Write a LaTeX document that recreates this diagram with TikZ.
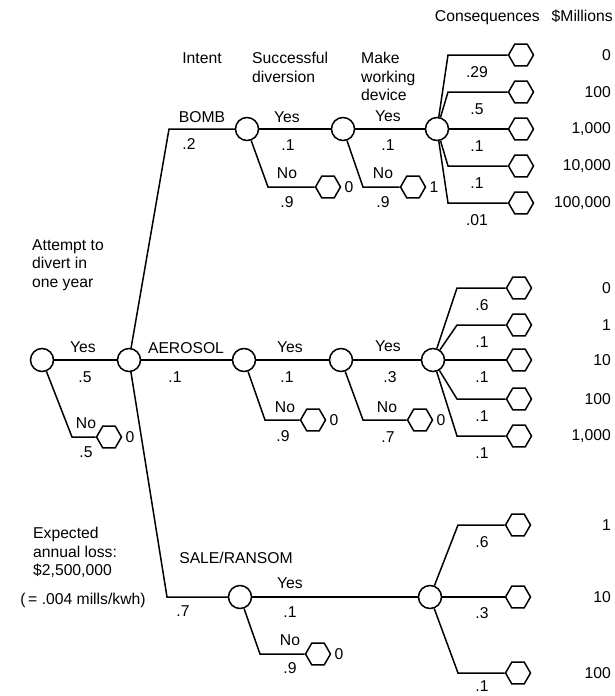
\documentclass[tikz,border=0pt]{standalone}
\usepackage{fontspec}
\setmainfont{Liberation Sans}
\usetikzlibrary{shapes.geometric}
\begin{document}
\begin{tikzpicture}[x=1pt,y=-1pt,font=\fontsize{15.7}{18.5}\selectfont,
  chance/.style={draw, circle, line width=1.5pt, minimum size=23pt, inner sep=0pt},
  endpt/.style={draw, regular polygon, regular polygon sides=6, line width=1.5pt, minimum size=25pt, inner sep=0pt},
  branch/.style={line width=1.5pt},
  every label/.style={inner sep=0pt}, label distance=3pt,
  every node/.append style={inner sep=0pt}]
\useasboundingbox (0,0) rectangle (615,696);
\node[anchor=east] (hcons) at (613,17) {Consequences\hspace{12pt}\$Millions};
\node (hint) at (202,58) {Intent};
\node[anchor=north west, align=left] (hsucc) at (252,52) {Successful\\diversion};
\node[anchor=north west, align=left] (hmake) at (361,52) {Make\\working\\device};
\node[anchor=north west, align=left] (hatt) at (32,239) {Attempt to\\divert in\\one year};
\node[anchor=north west, align=left] (hexp) at (33,527) {Expected\\annual loss:\\\$2,500,000};
\node (hmill) at (83,600) {(\,=\ .004 mills/kwh)};
\node[chance] (att) at (42,360) {};
\node[chance] (int) at (129,360) {};
\node[chance] (bsd) at (247,129) {};
\node[chance] (bmk) at (343,129) {};
\node[chance] (bcq) at (437,129) {};
\node[chance] (asd) at (244,360) {};
\node[chance] (amk) at (341,360) {};
\node[chance] (acq) at (433,360) {};
\node[chance] (ssd) at (240,597) {};
\node[chance] (scq) at (430,597) {};
\node[endpt, label=right:0] (attno) at (109,437) {};
\node[endpt, label=right:0] (bsdno) at (328,187) {};
\node[endpt, label=right:1] (bmkno) at (413,187) {};
\node[endpt, label=right:0] (asdno) at (313,420) {};
\node[endpt, label=right:0] (amkno) at (420,420) {};
\node[endpt, label=right:0] (ssdno) at (318,654) {};
\coordinate (attc) at (72,437);
\coordinate (bsdc) at (268,187);
\coordinate (bmkc) at (363,187);
\coordinate (asdc) at (265,420);
\coordinate (amkc) at (363,420);
\coordinate (ssdc) at (260,654);
\coordinate (trtop) at (169,129);
\coordinate (trbot) at (167,597);
\draw[branch] (att) -- (int);
\draw[branch] (att) -- (attc) -- (attno);
\draw[branch] (int) -- (trtop) -- (bsd);
\draw[branch] (int) -- (asd);
\draw[branch] (int) -- (trbot) -- (ssd);
\draw[branch] (bsd) -- (bmk);
\draw[branch] (bsd) -- (bsdc) -- (bsdno);
\draw[branch] (bmk) -- (bcq);
\draw[branch] (bmk) -- (bmkc) -- (bmkno);
\draw[branch] (asd) -- (amk);
\draw[branch] (asd) -- (asdc) -- (asdno);
\draw[branch] (amk) -- (acq);
\draw[branch] (amk) -- (amkc) -- (amkno);
\draw[branch] (ssd) -- (scq);
\draw[branch] (ssd) -- (ssdc) -- (ssdno);
\foreach \y/\v/\p [count=\i] in {55/0/.29, 92/100/.5, 129/1{,}000/.1, 166/10{,}000/.1, 203/100{,}000/.01} {
  \node[endpt] (bcq\i) at (521,\y) {};
  \coordinate (bk\i) at (448,\y);
  \node (bp\i) at (477,\y+17) {\p};
  \node[anchor=east] (bv\i) at (611,\y) {\v};
}
\foreach \i in {1,2,4,5} \draw[branch] (bcq) -- (bk\i) -- (bcq\i);
\draw[branch] (bcq) -- (bcq3);
\foreach \y/\v/\p [count=\i] in {288/0/.6, 325/1/.1, 360/10/.1, 399/100/.1, 436/1{,}000/.1} {
  \node[endpt] (acq\i) at (519,\y) {};
  \coordinate (ak\i) at (457,\y);
  \node (ap\i) at (482,\y+17) {\p};
  \node[anchor=east] (av\i) at (611,\y) {\v};
}
\foreach \i in {1,2,4,5} \draw[branch] (acq) -- (ak\i) -- (acq\i);
\draw[branch] (acq) -- (acq3);
\foreach \y/\v/\p/\q [count=\i] in {525/1/.6/542, 597/10/.3/613, 673/100/.1/686} {
  \node[endpt] (scq\i) at (518,\y) {};
  \coordinate (sk\i) at (458,\y);
  \node (sp\i) at (482,\q) {\p};
  \node[anchor=east] (sv\i) at (611,\y) {\v};
}
\draw[branch] (scq) -- (sk1) -- (scq1);
\draw[branch] (scq) -- (scq2);
\draw[branch] (scq) -- (sk3) -- (scq3);
\node (lbomb) at (202,117) {BOMB};
\node (lbp2) at (189,144) {.2};
\node (lby1) at (287,117) {Yes};
\node (lbp1) at (288,145) {.1};
\node (lbn1) at (287,173) {No};
\node (lbp9) at (287,202) {.9};
\node (lby2) at (388,116) {Yes};
\node (lbq1) at (388,145) {.1};
\node (lbn2) at (383,173) {No};
\node (lbq9) at (383,202) {.9};
\node (lay0) at (83,347) {Yes};
\node (lap5) at (85,377) {.5};
\node (lan0) at (86,423) {No};
\node (laq5) at (86,452) {.5};
\node (laer) at (186,348) {AEROSOL};
\node (lap1) at (175,377) {.1};
\node (lay1) at (290,347) {Yes};
\node (laq1) at (287,377) {.1};
\node (lan1) at (285,407) {No};
\node (lap9) at (283,436) {.9};
\node (lay2) at (388,346) {Yes};
\node (lap3) at (390,377) {.3};
\node (lan2) at (387,407) {No};
\node (lap7) at (388,437) {.7};
\node (lsale) at (236,558) {SALE/RANSOM};
\node (lsp7) at (183,611) {.7};
\node (lsy) at (290,583) {Yes};
\node (lsp1) at (290,612) {.1};
\node (lsn) at (290,640) {No};
\node (lsp9) at (290,668) {.9};
\end{tikzpicture}
\end{document}
